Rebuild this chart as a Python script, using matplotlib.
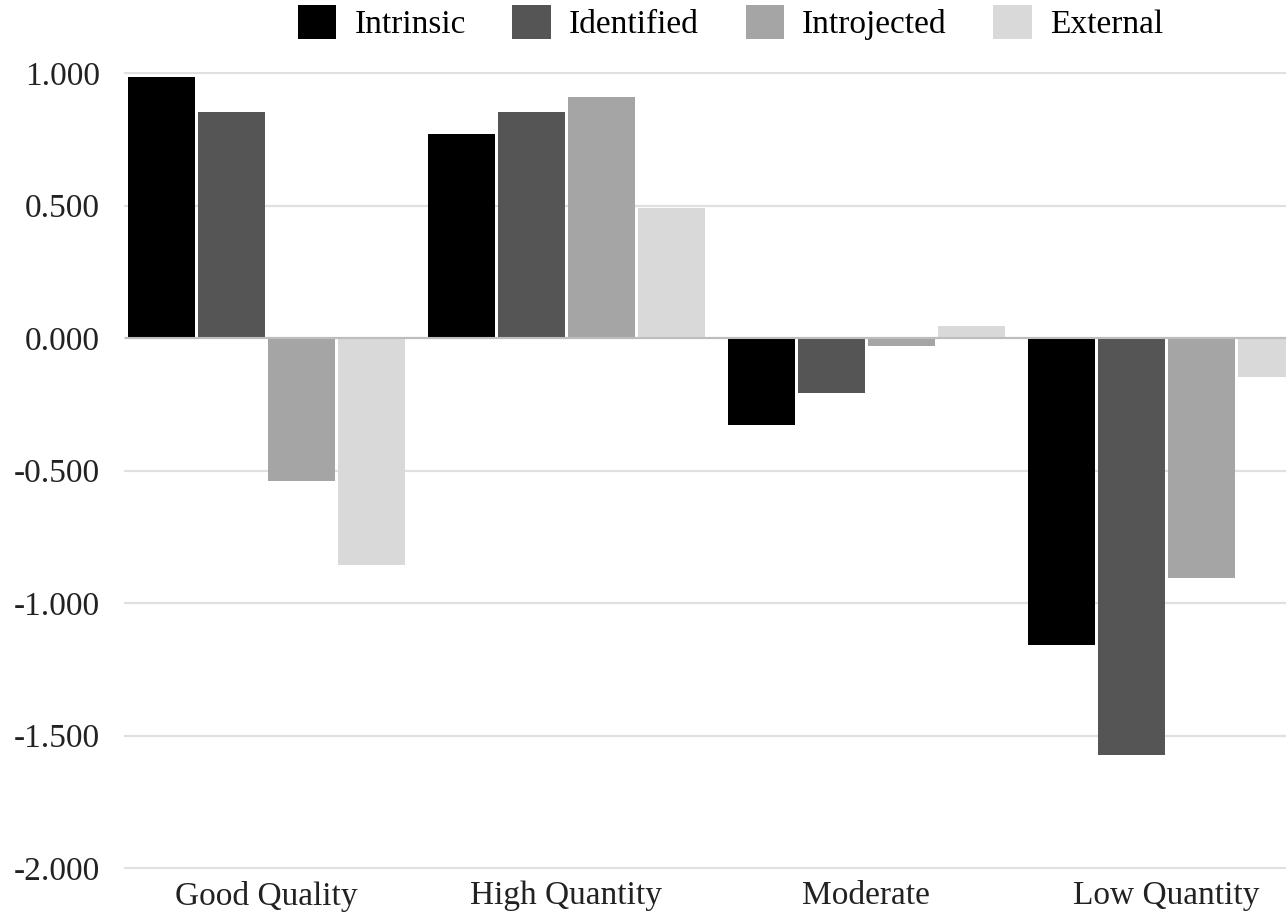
import numpy as np
import matplotlib
matplotlib.use('Agg')
from matplotlib import pyplot as plt

categories = ['Good Quality', 'High Quantity', 'Moderate', 'Low Quantity']
series     = ['Intrinsic', 'Identified', 'Introjected', 'External']
colors     = ['#000000', '#555555', '#a5a5a5', '#d9d9d9']

intrinsic   = [0.985, 0.770, -0.328, -1.158]
identified  = [0.853, 0.853, -0.208, -1.574]
introjected = [-0.540, 0.909, -0.030, -0.906]
external    = [-0.857, 0.490, 0.045, -0.147]
values = [intrinsic, identified, introjected, external]

yticks = [1.0, 0.5, 0.0, -0.5, -1.0, -1.5, -2.0]

plt.rcParams['font.family'] = ['Liberation Serif', 'DejaVu Serif']

fig = plt.figure(figsize=(12.86, 9.14), dpi=100)
ax = fig.add_axes([125/1286, 1 - 868/914, 1 - 125/1286, (868 - 73)/914])

x = np.arange(len(categories))
step = 70/300.
width = 67/300.
for i, (name, vals) in enumerate(zip(series, values)):
    ax.bar(x + (i - 1.5)*step, vals, width, color=colors[i], label=name,
           linewidth=0, zorder=3)

ax.set_ylim(-2.0, 1.0)
ax.set_xlim(-0.47, 3.4)
ax.set_yticks(yticks)
ax.set_yticklabels(['{:.3f}'.format(v) for v in yticks])
ax.set_xticks(x)
ax.set_xticklabels(categories)
ax.tick_params(length=0, labelsize=24, colors='#222222')
ax.tick_params(axis='y', pad=18)
ax.tick_params(axis='x', pad=9)
for s in ax.spines.values():
    s.set_visible(False)
ax.grid(axis='y', color='#e0e0e0', linewidth=1.5, zorder=0)
ax.axhline(0, color='#bdbdbd', linewidth=1.5, zorder=4)
for t in yticks:
    ax.axhline(t, color='#e0e0e0', linewidth=1.5, zorder=0, clip_on=False)

fig.legend(loc='center', bbox_to_anchor=(0.568, 0.975), ncol=4, frameon=False,
           fontsize=24, handlelength=1.15, handleheight=1.15, handletextpad=0.55,
           columnspacing=1.4)

fig.savefig('out.png')
